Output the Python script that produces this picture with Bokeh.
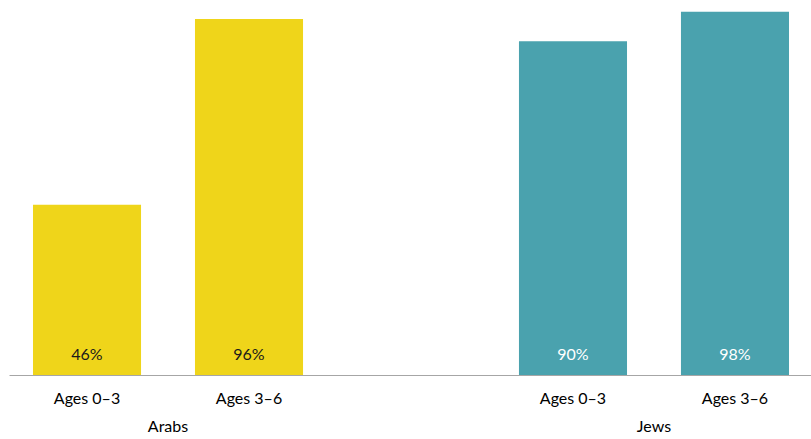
from bokeh.plotting import figure
from bokeh.models import FactorRange, ColumnDataSource, LabelSet
from bokeh.core.properties import value
from bokeh.embed import file_html
from bokeh.resources import INLINE

groups = ["Arabs", "Arabs", "Jews", "Jews"]
ages = ["Ages 0–3", "Ages 3–6", "Ages 0–3", "Ages 3–6"]
values = [46, 96, 90, 98]
colors = ["#EFD51A", "#EFD51A", "#4AA2AE", "#4AA2AE"]
label_colors = ["#1a1a1a", "#1a1a1a", "#ffffff", "#ffffff"]

x = list(zip(groups, ages))
labels = [f"{v}%" for v in values]
src = ColumnDataSource(dict(x=x, top=values, color=colors, label=labels,
                            lc=label_colors, zero=[0] * len(values)))

FONT = "Lato"

xr = FactorRange(*x, group_padding=1.0, range_padding=-0.0215, range_padding_units="absolute")
p = figure(x_range=xr, y_range=(0, 101), frame_width=803, frame_height=375,
           output_backend="svg", toolbar_location=None,
           min_border_left=9, min_border_right=0, min_border_top=0, min_border_bottom=0)

p.vbar(x="x", top="top", width=0.667, color="color", line_color=None, source=src)

lbl = LabelSet(x="x", y="zero", text="label", source=src, y_offset=22,
               text_align="center", text_baseline="middle", text_color="lc",
               text_font=value(FONT), text_font_size="16px")
p.add_layout(lbl)

p.yaxis.visible = False
p.xgrid.visible = False
p.ygrid.visible = False
p.outline_line_color = None
p.background_fill_color = "white"
p.border_fill_color = "white"

ax = p.xaxis[0]
ax.axis_line_color = "#A6A6A6"
ax.axis_line_width = 1
ax.major_tick_line_color = None
ax.minor_tick_line_color = None
ax.major_label_standoff = 6
ax.major_label_text_font = FONT
ax.major_label_text_font_size = "16px"
ax.major_label_text_color = "#000000"
ax.group_text_font = FONT
ax.group_text_font_size = "16px"
ax.group_text_font_style = "normal"
ax.group_text_color = "#000000"
ax.separator_line_color = None

open("out.html", "w").write(file_html(p, INLINE))
